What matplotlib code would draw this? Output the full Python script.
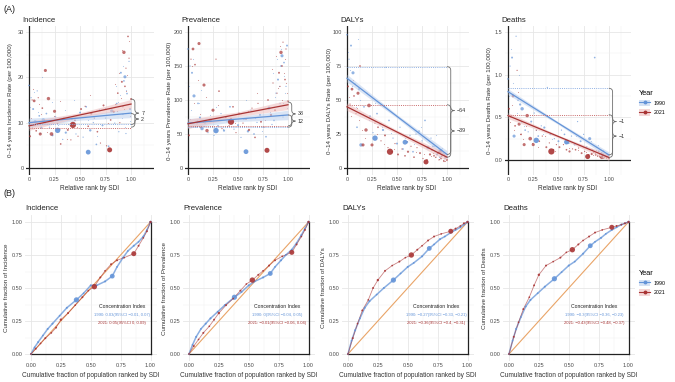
import numpy as np
import matplotlib
matplotlib.use("Agg")
import matplotlib.pyplot as plt
from matplotlib.path import Path
from matplotlib.patches import PathPatch, Patch
from matplotlib.lines import Line2D
from matplotlib.ticker import FixedLocator

plt.rcParams['font.family'] = ['Liberation Sans', 'DejaVu Sans']

# ---- colours
BLUE, RED = "#6494D8", "#A93535"
BLUE_FILL, RED_FILL = "#BCD0EE", "#EDBDBD"
BLUE_DOT, RED_DOT = "#8FB0E3", "#C96B6B"
ORANGE = "#E9A467"

# ---- (A) country points: relative SDI rank, population size
x90 = [0.00, 0.02, 0.04, 0.06, 0.08, 0.10, 0.12, 0.14, 0.17, 0.20, 0.23, 0.26, 0.30, 0.33, 0.36, 0.39, 0.42, 0.46, 0.50, 0.53,
       0.56, 0.60, 0.63, 0.66, 0.69, 0.72, 0.75, 0.78, 0.81, 0.84, 0.86, 0.88, 0.90, 0.92, 0.93, 0.94, 0.95, 0.96, 0.98, 0.99]
x21 = [0.01, 0.03, 0.05, 0.07, 0.09, 0.11, 0.13, 0.16, 0.19, 0.22, 0.25, 0.28, 0.31, 0.34, 0.38, 0.41, 0.45, 0.48, 0.51, 0.55,
       0.58, 0.61, 0.64, 0.67, 0.70, 0.73, 0.76, 0.80, 0.83, 0.85, 0.87, 0.89, 0.91, 0.92, 0.93, 0.94, 0.95, 0.97, 0.98, 1.00]
s90 = [1.5, 0.8, 2, 5, 0.8, 1.5, 2.5, 6, 1.5, 0.8, 2, 0.8, 1.5, 0.8, 2.5, 0.8, 1.5, 0.8, 2, 0.8,
       1.5, 3, 0.8, 1.5, 0.8, 2, 0.8, 1.5, 5, 0.8, 1.5, 0.8, 2, 0.8, 1.5, 5, 0.8, 1.5, 0.8, 2]
s21 = [2, 0.8, 4, 1.5, 0.8, 5, 1.5, 5, 6, 7, 5, 0.8, 1.5, 0.8, 2, 0.8, 1.5, 0.8, 2, 0.8,
       1.5, 2.5, 0.8, 1.5, 0.8, 2, 0.8, 1.5, 2.5, 0.8, 1.5, 0.8, 2, 0.8, 6, 1.5, 0.8, 1.5, 0.8, 2]
big_x90, big_s90 = [0.28, 0.58], [15, 12]
big_x21, big_s21 = [0.43, 0.79], [20, 13]
# tiny countries
tx90 = [0.01, 0.03, 0.05, 0.09, 0.11, 0.13, 0.16, 0.22, 0.28, 0.35, 0.44, 0.58, 0.67, 0.74, 0.82, 0.85, 0.87, 0.89,
        0.91, 0.925, 0.945, 0.955, 0.97, 0.985]
tx21 = [0.02, 0.04, 0.06, 0.10, 0.12, 0.15, 0.18, 0.24, 0.30, 0.37, 0.47, 0.60, 0.69, 0.77, 0.84, 0.86, 0.88, 0.90,
        0.915, 0.935, 0.955, 0.965, 0.975, 0.99]

inc90 = [18.2, 15.5, 13.0, 10.2, 17.0, 11.5, 8.9, 10.6, 12.0, 9.0, 7.2, 11.3, 8.5, 6.3, 7.8, 9.6, 10.8, 7.5, 12.2, 6.8,
         13.5, 8.3, 10.0, 5.2, 12.8, 9.4, 11.0, 4.8, 12.6, 9.9, 14.2, 8.0, 21.0, 11.8, 19.2, 20.1, 7.6, 16.4, 23.5, 13.0]
inc21 = [7.0, 15.0, 14.8, 8.2, 15.5, 7.5, 13.2, 21.5, 15.3, 7.5, 12.5, 9.8, 5.3, 11.0, 8.4, 6.2, 10.5, 7.0, 13.0, 13.6,
         9.2, 12.0, 11.0, 8.0, 5.5, 13.8, 4.9, 10.6, 12.4, 14.0, 16.5, 10.0, 19.0, 13.5, 25.5, 18.0, 22.0, 29.0, 24.2, 15.2]
prev90 = [175, 150, 140, 106, 60, 95, 74, 58, 66, 52, 70, 48, 62, 80, 55, 68, 90, 57, 63, 45,
          72, 54, 85, 50, 67, 78, 60, 46, 88, 64, 70, 110, 130, 95, 150, 165, 75, 155, 120, 180]
prev21 = [48, 160, 175, 152, 65, 183, 60, 122, 55, 70, 85, 160, 113, 58, 75, 62, 90, 52, 80, 66,
          72, 56, 88, 45, 95, 68, 60, 100, 78, 125, 85, 110, 140, 120, 170, 150, 185, 130, 175, 98]
dal90 = [98, 80, 90, 70, 62, 30, 58, 17, 45, 55, 38, 26, 40, 32, 28, 74, 35, 22, 18, 30,
         14, 19, 24, 12, 25, 27, 20, 35, 15, 22, 16, 12, 10, 14, 8, 13, 9, 11, 7, 8]
dal21 = [60, 47, 58, 53, 40, 55, 75, 17, 28, 46, 17, 33, 30, 20, 24, 15, 12, 18, 10, 14,
         9, 12, 16, 8, 15, 11, 7, 6, 10, 13, 9, 8, 11, 6, 12, 7, 9, 5, 8, 6]
dea90 = [0.95, 1.10, 1.20, 0.28, 1.45, 0.70, 0.65, 0.60, 0.35, 0.33, 0.45, 0.55, 0.28, 0.40, 0.38, 0.85, 0.30, 0.25, 0.22, 0.35,
         0.30, 0.20, 0.28, 0.18, 0.45, 0.22, 0.30, 0.15, 0.25, 0.12, 1.20, 0.15, 0.10, 0.12, 0.08, 0.06, 0.10, 0.05, 0.04, 0.06]
dea21 = [0.60, 0.50, 0.75, 0.40, 1.05, 0.42, 0.30, 0.18, 0.52, 0.25, 0.18, 0.35, 0.22, 0.28, 0.15, 0.20, 0.12, 0.18, 0.15, 0.18,
         0.12, 0.10, 0.13, 0.12, 0.14, 0.08, 0.10, 0.06, 0.07, 0.09, 0.06, 0.05, 0.04, 0.07, 0.03, 0.05, 0.02, 0.04, 0.03, 0.02]
tinc90 = [13.5, 9.0, 16.8, 12.4, 7.8, 20.0, 10.0, 14.5, 9.5, 12.8, 15.0, 10.6, 7.0, 13.2, 9.8, 18.0, 14.6, 16.2, 11.0, 22.5,
          9.0, 17.2, 12.2, 10.4]
tinc21 = [11.0, 17.5, 9.5, 14.0, 12.0, 10.5, 8.0, 11.5, 14.8, 6.5, 9.0, 16.0, 12.8, 10.0, 18.5, 12.6, 21.0, 15.5, 26.0, 13.0,
          17.0, 20.5, 28.0, 11.5]
tprev90 = [120, 85, 160, 70, 95, 115, 62, 78, 90, 58, 66, 100, 74, 55, 82, 140, 105, 160, 120, 175, 95, 135, 110, 88]
tprev21 = [72, 150, 95, 130, 80, 68, 105, 60, 92, 75, 66, 84, 110, 70, 145, 90, 165, 118, 180, 100, 140, 160, 125, 110]
tdal90 = [85, 72, 60, 45, 95, 50, 40, 35, 48, 30, 26, 22, 18, 30, 20, 14, 16, 24, 12, 10, 15, 11, 9, 7]
tdal21 = [52, 38, 65, 44, 35, 28, 22, 36, 25, 18, 14, 20, 12, 10, 9, 11, 8, 12, 7, 9, 6, 10, 5, 6]
tdea90 = [0.75, 1.30, 0.90, 0.55, 1.00, 0.45, 0.40, 0.50, 0.35, 0.30, 0.25, 0.20, 0.28, 0.15, 0.22, 0.10, 0.12, 0.18,
          0.08, 0.09, 0.12, 0.05, 0.07, 0.04]
tdea21 = [0.45, 0.65, 0.35, 0.80, 0.30, 0.25, 0.40, 0.20, 0.15, 0.28, 0.10, 0.14, 0.12, 0.09, 0.06, 0.08, 0.05, 0.07,
          0.04, 0.06, 0.03, 0.05, 0.02, 0.03]
big_y = {"Incidence": ([8.3, 3.5], [9.5, 4.0]), "Prevalence": ([55, 24], [68, 26]),
         "DALYs": ([22, 19], [12, 4.5]), "Deaths": ([0.23, 0.21], [0.10, 0.04])}

# regression fit at x = 0, 0.5, 1 with CI half-widths
fit_x = [0, 0.5, 1]
fit90 = {"Incidence": [10.0, 11.05, 12.1], "Prevalence": [66, 72, 78], "DALYs": [66, 38, 10], "Deaths": [0.80, 0.43, 0.06]}
fit21 = {"Incidence": [9.3, 11.7, 14.1], "Prevalence": [65, 79, 93], "DALYs": [45, 26.5, 8], "Deaths": [0.52, 0.275, 0.03]}
ci_hw = {"Incidence": [1.0, 0.5, 1.0], "Prevalence": [7, 3.5, 7], "DALYs": [2.8, 1.3, 2.8], "Deaths": [0.035, 0.015, 0.035]}
# dotted reference levels and brace (top, bottom, label)
ref90 = {"Incidence": 9.8, "Prevalence": 60, "DALYs": 74.5, "Deaths": 0.84}
ref21 = {"Incidence": 8.8, "Prevalence": 62, "DALYs": 46.5, "Deaths": 0.53}
braces = {"Incidence": [(15.2, 9.0, "7"), (12.0, 9.6, "2")],
          "Prevalence": [(97, 62, "38"), (78, 60, "12")],
          "DALYs": [(74.5, 10, "\u221264"), (46.5, 8, "\u221239")],
          "Deaths": [(0.84, 0.06, "\u22121"), (0.53, 0.03, "\u22121")]}

# ---- (B) concentration curves
cx90 = [0, 0.03, 0.06, 0.10, 0.14, 0.18, 0.24, 0.30, 0.38, 0.44, 0.50, 0.55, 0.62, 0.68, 0.72, 0.77, 0.81, 0.86, 0.90, 0.94, 0.97, 1.0]
cx21 = [0, 0.04, 0.08, 0.12, 0.17, 0.21, 0.25, 0.31, 0.37, 0.43, 0.48, 0.53, 0.58, 0.62, 0.67, 0.72, 0.78, 0.86, 0.90, 0.94, 0.97, 1.0]
cs90 = [1.5, 1.5, 2, 1.5, 2, 2, 1.5, 2, 14, 1.5, 2, 1.5, 2, 12, 1.5, 2, 1.5, 2, 1.5, 2, 1.5, 3]
cs21 = [1.5, 2, 1.5, 2, 1.5, 2, 3, 2, 1.5, 2, 1.5, 15, 2, 1.5, 2, 2, 1.5, 13, 2, 1.5, 2, 3]
cy90 = {"Incidence": [0, 0.05, 0.09, 0.14, 0.19, 0.23, 0.29, 0.35, 0.41, 0.46, 0.52, 0.52, 0.55, 0.59, 0.66, 0.73, 0.78, 0.82, 0.85, 0.89, 0.94, 1.0],
        "Prevalence": [0, 0.07, 0.13, 0.19, 0.23, 0.27, 0.32, 0.37, 0.43, 0.47, 0.52, 0.55, 0.58, 0.61, 0.66, 0.71, 0.75, 0.79, 0.84, 0.90, 0.95, 1.0],
        "DALYs": [0, 0.10, 0.18, 0.27, 0.35, 0.40, 0.45, 0.50, 0.56, 0.61, 0.66, 0.69, 0.74, 0.80, 0.83, 0.87, 0.89, 0.92, 0.94, 0.96, 0.98, 1.0],
        "Deaths": [0, 0.10, 0.19, 0.28, 0.36, 0.41, 0.46, 0.51, 0.57, 0.62, 0.67, 0.70, 0.76, 0.82, 0.85, 0.88, 0.91, 0.94, 0.96, 0.98, 0.99, 1.0]}
cy21 = {"Incidence": [0, 0.04, 0.08, 0.12, 0.16, 0.20, 0.26, 0.31, 0.37, 0.43, 0.48, 0.51, 0.58, 0.63, 0.68, 0.71, 0.73, 0.76, 0.82, 0.88, 0.93, 1.0],
        "Prevalence": [0, 0.06, 0.11, 0.16, 0.21, 0.26, 0.31, 0.37, 0.42, 0.48, 0.53, 0.56, 0.60, 0.63, 0.67, 0.71, 0.74, 0.77, 0.83, 0.89, 0.94, 1.0],
        "DALYs": [0, 0.12, 0.23, 0.33, 0.41, 0.50, 0.56, 0.63, 0.67, 0.70, 0.73, 0.75, 0.79, 0.82, 0.86, 0.89, 0.91, 0.93, 0.95, 0.97, 0.99, 1.0],
        "Deaths": [0, 0.13, 0.24, 0.34, 0.43, 0.52, 0.60, 0.67, 0.70, 0.73, 0.77, 0.79, 0.83, 0.86, 0.89, 0.92, 0.94, 0.96, 0.97, 0.98, 0.99, 1.0]}
conc_txt = {"Incidence": ("1990: 0.03(95%CI \u22120.01, 0.07)", "2021: 0.05(95%CI 0, 0.09)"),
            "Prevalence": ("1990: 0(95%CI \u22120.04, 0.05)", "2021: \u22120.01(95%CI \u22120.06, 0.04)"),
            "DALYs": ("1990: \u22120.27(95%CI \u22120.33, \u22120.21)", "2021: \u22120.36(95%CI \u22120.4, \u22120.31)"),
            "Deaths": ("1990: \u22120.3(95%CI \u22120.36, \u22120.23)", "2021: \u22120.43(95%CI \u22120.48, \u22120.37)")}
conc_x = {"Incidence": 0.76, "Prevalence": 0.74, "DALYs": 0.74, "Deaths": 0.71}

measures = ["Incidence", "Prevalence", "DALYs", "Deaths"]
top_y = {"Incidence": ([0, 10, 20, 30], ["0", "10", "20", "30"], [5, 15, 25], (-1.54, 31.3)),
         "Prevalence": ([0, 50, 100, 150, 200], ["0", "50", "100", "150", "200"], [25, 75, 125, 175], (-10.3, 208.8)),
         "DALYs": ([0, 25, 50, 75, 100], ["0", "25", "50", "75", "100"], [12.5, 37.5, 62.5, 87.5], (-5.1, 104.4)),
         "Deaths": ([0, 0.5, 1.0, 1.5], ["0.0", "0.5", "1.0", "1.5"], [0.25, 0.75, 1.25], (-0.176, 1.57))}
pts90 = {"Incidence": inc90, "Prevalence": prev90, "DALYs": dal90, "Deaths": dea90}
pts21 = {"Incidence": inc21, "Prevalence": prev21, "DALYs": dal21, "Deaths": dea21}
tiny90 = {"Incidence": tinc90, "Prevalence": tprev90, "DALYs": tdal90, "Deaths": tdea90}
tiny21 = {"Incidence": tinc21, "Prevalence": tprev21, "DALYs": tdal21, "Deaths": tdea21}

W, H = 675, 382
fig = plt.figure(figsize=(W / 100, H / 100), dpi=100)
TXT = "#333333"


def add_ax(left, top, width, height):
    return fig.add_axes([left / W, 1 - (top + height) / H, width / W, height / H])


def style(ax, major_x, xlabels, minor_x, major_y, ylabels, minor_y):
    for sp in ax.spines.values():
        sp.set_visible(False)
    ax.xaxis.set_major_locator(FixedLocator(major_x))
    ax.set_xticklabels(xlabels)
    ax.xaxis.set_minor_locator(FixedLocator(minor_x))
    ax.yaxis.set_major_locator(FixedLocator(major_y))
    ax.set_yticklabels(ylabels)
    ax.yaxis.set_minor_locator(FixedLocator(minor_y))
    ax.grid(which="major", color="#E6E6E6", lw=0.6, zorder=0)
    ax.grid(which="minor", color="#F1F1F1", lw=0.35, zorder=0)
    ax.tick_params(which="both", length=0, labelsize=4.0, labelcolor="#4D4D4D", pad=1.8)
    ax.set_axisbelow(True)


def brace(ax, x, y_hi, y_lo, w, r, label):
    ym = (y_hi + y_lo) / 2
    r = min(r, (y_hi - y_lo) / 4)
    h = x + w / 2
    verts = [(x, y_hi), (h, y_hi), (h, y_hi - r), (h, ym + r), (h, ym), (x + w, ym),
             (h, ym), (h, ym - r), (h, y_lo + r), (h, y_lo), (x, y_lo)]
    codes = [Path.MOVETO, Path.CURVE3, Path.CURVE3, Path.LINETO, Path.CURVE3, Path.CURVE3,
             Path.CURVE3, Path.CURVE3, Path.LINETO, Path.CURVE3, Path.CURVE3]
    ax.add_patch(PathPatch(Path(verts, codes), fill=False, ec="#6E6E6E", lw=0.6, zorder=4))
    ax.text(x + w + 0.025, ym, label, fontsize=3.9, color=TXT, va="center", ha="left")


# ---- row A
top_lefts = [26, 185, 344, 505]
top_widths = [127.5, 125, 125, 126]
for m, left, width in zip(measures, top_lefts, top_widths):
    ax = add_ax(left, 26, width, 149)
    major_y, ylabs, minor_y, ylim = top_y[m]
    style(ax, [0, 0.25, 0.5, 0.75, 1.0], ["0", "0.25", "0.50", "0.75", "1.00"],
          [0.125, 0.375, 0.625, 0.875, 1.125], major_y, ylabs, minor_y)
    ax.set_xlim(-0.03, 1.22)
    ax.set_ylim(*ylim)
    ax.axhline(0, color="#222222", lw=0.9, zorder=1)
    ax.axvline(0, color="#222222", lw=0.9, zorder=1)

    ax.scatter(tx90, tiny90[m], s=0.6, color=BLUE, alpha=0.55, lw=0, zorder=2)
    ax.scatter(tx21, tiny21[m], s=0.6, color=RED, alpha=0.55, lw=0, zorder=2)
    ax.scatter(x90, pts90[m], s=s90, color=BLUE, alpha=0.7, lw=0, zorder=2)
    ax.scatter(x21, pts21[m], s=s21, color=RED, alpha=0.7, lw=0, zorder=2)
    b90, b21 = big_y[m]
    ax.scatter(big_x90, b90, s=big_s90, color=BLUE, alpha=0.9, lw=0, zorder=3)
    ax.scatter(big_x21, b21, s=big_s21, color=RED, alpha=0.9, lw=0, zorder=3)

    for fit, col, fill in [(fit90[m], BLUE, BLUE_FILL), (fit21[m], RED, RED_FILL)]:
        lo = [f - e for f, e in zip(fit, ci_hw[m])]
        hi = [f + e for f, e in zip(fit, ci_hw[m])]
        ax.fill_between(fit_x, lo, hi, color=fill, alpha=0.55, lw=0, zorder=2)
        ax.plot(fit_x, fit, color=col, lw=0.9, zorder=3)

    ax.plot([0, 1], [ref90[m], ref90[m]], color=BLUE_DOT, lw=0.7, ls=(0, (1, 1.2)), zorder=3)
    ax.plot([0, 1], [ref21[m], ref21[m]], color=RED_DOT, lw=0.7, ls=(0, (1, 1.2)), zorder=3)
    span = ylim[1] - ylim[0]
    for y_hi, y_lo, lab in braces[m]:
        brace(ax, 1.0, y_hi, y_lo, 0.075, 0.025 * span, lab)

    ax.set_xlabel("Relative rank by SDI", fontsize=4.7, color=TXT, labelpad=1.5)
    ax.set_ylabel(f"0\u201314 years {m} Rate (per 100,000)", fontsize=4.5, color=TXT)
    ax.yaxis.set_label_coords(-0.1, 0.5)
    ax.text(-0.03, 1.015, m, transform=ax.transAxes, fontsize=5.6, color="#222222", ha="left", va="bottom")

# ---- row B
bot_lefts = [25, 183, 342, 503]
fr = [0, 0.25, 0.5, 0.75, 1.0]
fr_lab = ["0.00", "0.25", "0.50", "0.75", "1.00"]
fr_minor = [0.125, 0.375, 0.625, 0.875]
for m, left in zip(measures, bot_lefts):
    ax = add_ax(left, 215.4, 131.5, 145.2)
    style(ax, fr, fr_lab, fr_minor, fr, fr_lab, fr_minor)
    ax.set_xlim(-0.05, 1.05)
    ax.set_ylim(-0.05, 1.05)
    ax.plot([0, 1], [0, 1], color=ORANGE, lw=0.8, zorder=2)
    ax.plot([0, 1], [0, 0], color="#222222", lw=0.9, zorder=2)
    ax.plot([1, 1], [0, 1], color="#222222", lw=0.9, zorder=2)

    ax.plot(cx90, cy90[m], color=BLUE, lw=1.1, alpha=0.75, zorder=3)
    ax.scatter(cx90, cy90[m], s=cs90, color=BLUE, alpha=0.9, lw=0, zorder=4)
    ax.plot(cx21, cy21[m], color=RED, lw=0.6, alpha=0.6, zorder=3)
    ax.scatter(cx21, cy21[m], s=cs21, color=RED, alpha=0.9, lw=0, zorder=4)

    cx = conc_x[m]
    ax.text(cx, 0.36, "Concentration Index", fontsize=3.7, color="#222222", ha="center", va="center")
    ax.text(cx, 0.295, conc_txt[m][0], fontsize=3.0, color=BLUE, ha="center", va="center")
    ax.text(cx, 0.235, conc_txt[m][1], fontsize=3.0, color=RED, ha="center", va="center")

    ax.set_xlabel("Cumulative fraction of population ranked by SDI", fontsize=4.7, color=TXT, labelpad=2.5)
    ax.set_ylabel(f"Cumulative fraction of {m}", fontsize=4.5, color=TXT)
    ax.yaxis.set_label_coords(-0.125, 0.5)
    ax.text(0.0, 1.025, m, transform=ax.transAxes, fontsize=5.6, color="#222222", ha="left", va="bottom")

fig.text(4 / W, 1 - 10 / H, "(A)", fontsize=6.5, color="#222222", ha="left", va="center")
fig.text(4 / W, 1 - 194 / H, "(B)", fontsize=6.5, color="#222222", ha="left", va="center")

# ---- legends
handles = [(Patch(facecolor=BLUE_FILL, edgecolor="none", alpha=0.6),
            Line2D([], [], color=BLUE, lw=0.8, marker="o", ms=1.8)),
           (Patch(facecolor=RED_FILL, edgecolor="none", alpha=0.6),
            Line2D([], [], color=RED, lw=0.8, marker="o", ms=1.8))]
for top in (86, 266):
    fig.legend(handles, ["1990", "2021"], title="Year", loc="upper left",
               bbox_to_anchor=(635 / W, 1 - top / H), frameon=False, fontsize=3.8,
               title_fontsize=5.3, alignment="left", handlelength=2.2, handleheight=1.6,
               labelspacing=0.55, borderpad=0.2, handletextpad=0.6)

fig.savefig("out.png", dpi=100, facecolor="white")
